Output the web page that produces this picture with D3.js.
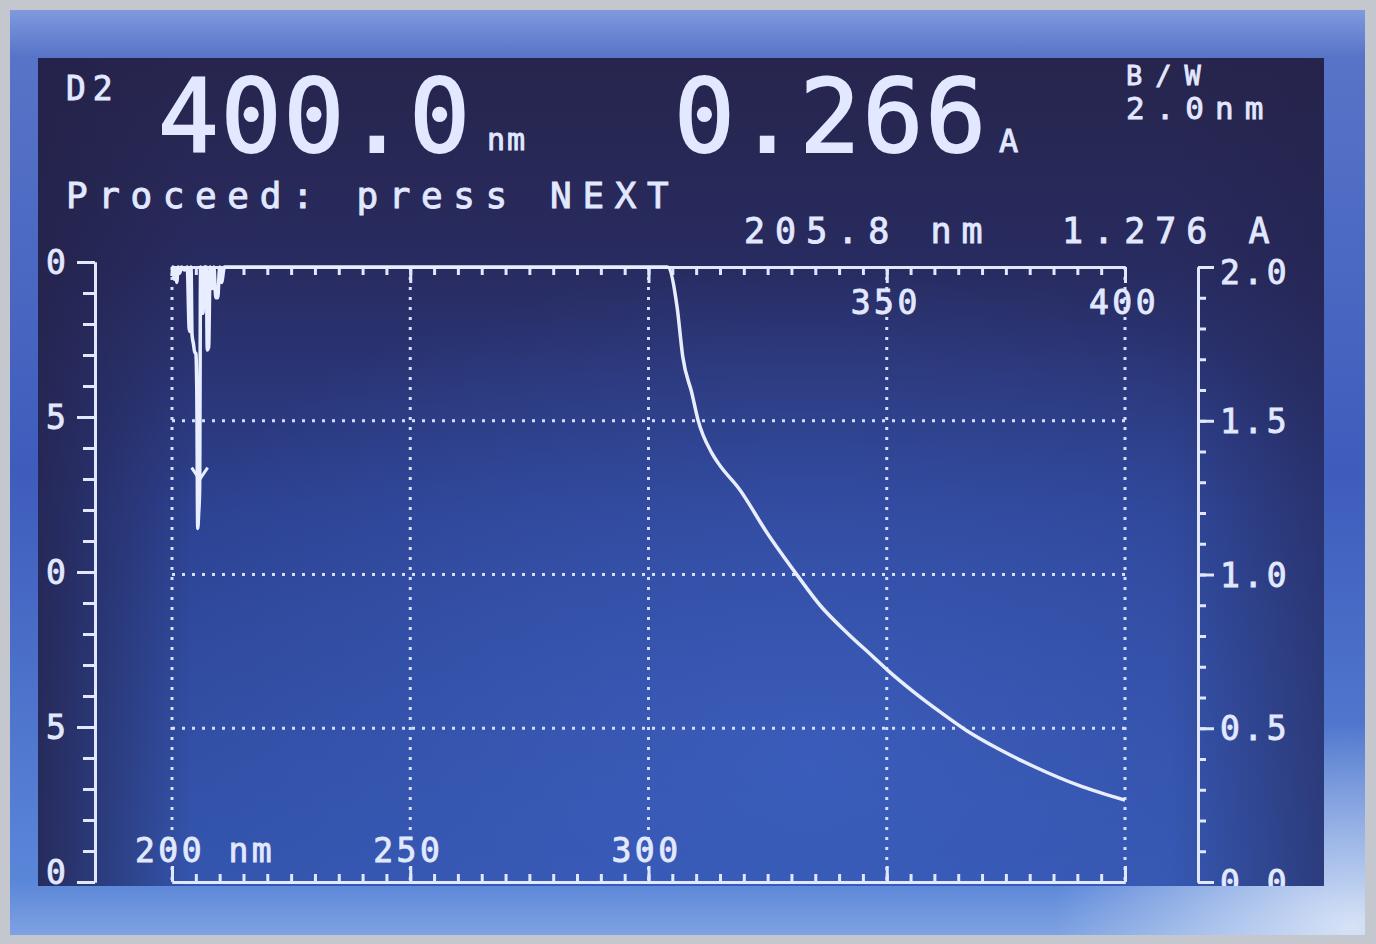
<!DOCTYPE html>
<html>
<head>
<meta charset="utf-8">
<script src="https://cdn.jsdelivr.net/npm/d3@7"></script>
<style>
  html, body { margin: 0; padding: 0; background: #c4c7cd; }
  svg { display: block; }
  .lcd { font-family: "DejaVu Sans Mono", "Liberation Mono", monospace; fill: #e2e8ff; stroke: #e2e8ff; stroke-width: 0.9; }
  .axis path, .axis line { stroke: #e0e7ff; stroke-width: 3; }
  .grid line { stroke: #d6deff; stroke-width: 3; stroke-dasharray: 3 7; }
</style>
</head>
<body>
<div id="chart"></div>
<script>
// Readout values shown on the instrument display
const lampLabel = "D2";
const currentNm = "400.0";
const currentAbs = "0.266";
const bandwidth = ["B/W", "2.0nm"];
const promptText = "Proceed: press NEXT";
const cursorNm = 205.8;
const cursorAbs = 1.276;

// Axis ticks and labels
const gridNm = [200, 250, 300, 350, 400];
const gridAbs = [0.5, 1.0, 1.5];
const majorAbs = [0, 0.5, 1.0, 1.5, 2.0];
const rightLabels = ["0.0", "0.5", "1.0", "1.5", "2.0"];
const leftLabels = ["0", "5", "0", "5", "0"];          // %T labels, truncated on screen
const topLabelNm = [350, 400];
const bottomLabelNm = [200, 250, 300];
const bottomLabels = ["200 nm", "250", "300"];

// Scanned spectrum (absorbance, clipped at 2.0 by the display)
const wavelengths = [
  200.0, 200.2, 200.5, 200.8, 201.0, 201.3, 201.6, 202.0, 202.6, 203.2,
  203.6, 203.8, 204.0, 204.2, 204.5, 204.8, 205.0, 205.2, 205.4, 205.6,
  205.8, 206.0, 206.2, 206.5, 206.8, 207.2, 207.4, 207.7, 208.0, 208.4,
  208.8, 209.2, 209.6, 210.0, 210.4, 211.0, 304.0, 306.0, 307.2, 309.1,
  310.4, 313.3, 314.6, 319.2, 324.9, 331.2, 336.0, 341.7, 347.1, 350.1,
  355.5, 361.2, 366.8, 373.8, 381.1, 390.3, 400.0
];
const absorbance = [
  1.97, 2.00, 1.96, 1.99, 1.95, 2.00, 1.98, 2.00, 1.99, 2.00,
  1.80, 1.79, 2.00, 1.78, 1.75, 1.72, 1.72, 1.60, 1.15, 1.20,
  1.276, 2.00, 1.86, 1.85, 2.00, 2.00, 1.73, 1.74, 2.00, 1.93,
  2.00, 1.90, 1.90, 2.00, 1.95, 2.00, 2.00, 1.87, 1.707, 1.59,
  1.502, 1.395, 1.363, 1.275, 1.135, 0.998, 0.900, 0.810, 0.733, 0.690,
  0.620, 0.553, 0.492, 0.430, 0.374, 0.314, 0.266
];

const W = 1376, H = 944;
const svg = d3.select('#chart').append('svg')
  .attr('width', W).attr('height', H);

const defs = svg.append('defs');

// bezel gradient
const bezel = defs.append('linearGradient').attr('id', 'bezel')
  .attr('x1', 0).attr('y1', 0).attr('x2', 0).attr('y2', 1);
bezel.append('stop').attr('offset', '0%').attr('stop-color', '#7f9ade');
bezel.append('stop').attr('offset', '5%').attr('stop-color', '#5874c8');
bezel.append('stop').attr('offset', '50%').attr('stop-color', '#3e5cbc');
bezel.append('stop').attr('offset', '94%').attr('stop-color', '#5a86d8');
bezel.append('stop').attr('offset', '100%').attr('stop-color', '#7ea2e2');

const glare = defs.append('radialGradient').attr('id', 'glare')
  .attr('cx', 0.99).attr('cy', 0.99).attr('r', 0.22);
glare.append('stop').attr('offset', '0%').attr('stop-color', '#e6eefa').attr('stop-opacity', 0.85);
glare.append('stop').attr('offset', '100%').attr('stop-color', '#e6eefa').attr('stop-opacity', 0);

// screen gradients
const scr = defs.append('linearGradient').attr('id', 'screen')
  .attr('x1', 0).attr('y1', 0).attr('x2', 0).attr('y2', 1);
scr.append('stop').attr('offset', '0%').attr('stop-color', '#27254d');
scr.append('stop').attr('offset', '25%').attr('stop-color', '#282b60');
scr.append('stop').attr('offset', '55%').attr('stop-color', '#2c4190');
scr.append('stop').attr('offset', '100%').attr('stop-color', '#3254ab');

const glow = defs.append('radialGradient').attr('id', 'glow')
  .attr('cx', 0.6).attr('cy', 0.85).attr('r', 0.6);
glow.append('stop').attr('offset', '0%').attr('stop-color', '#3f62c4').attr('stop-opacity', 0.7);
glow.append('stop').attr('offset', '100%').attr('stop-color', '#3f62c4').attr('stop-opacity', 0);

const edge = defs.append('linearGradient').attr('id', 'edge')
  .attr('x1', 0).attr('y1', 0).attr('x2', 1).attr('y2', 0);
edge.append('stop').attr('offset', '0%').attr('stop-color', '#24224a').attr('stop-opacity', 0.8);
edge.append('stop').attr('offset', '12%').attr('stop-color', '#24224a').attr('stop-opacity', 0);
edge.append('stop').attr('offset', '88%').attr('stop-color', '#24224a').attr('stop-opacity', 0);
edge.append('stop').attr('offset', '100%').attr('stop-color', '#24224a').attr('stop-opacity', 0.5);

defs.append('clipPath').attr('id', 'screen-clip')
  .append('rect').attr('x', 38).attr('y', 58).attr('width', 1286).attr('height', 828);

// photo frame
svg.append('rect').attr('x', 10).attr('y', 10).attr('width', 1355).attr('height', 925)
  .attr('fill', 'url(#bezel)');
svg.append('rect').attr('x', 10).attr('y', 10).attr('width', 1355).attr('height', 925)
  .attr('fill', 'url(#glare)');

svg.append('rect').attr('x', 38).attr('y', 58).attr('width', 1286).attr('height', 828)
  .attr('fill', 'url(#screen)');
svg.append('rect').attr('x', 38).attr('y', 58).attr('width', 1286).attr('height', 828)
  .attr('fill', 'url(#glow)');
svg.append('rect').attr('x', 38).attr('y', 58).attr('width', 1286).attr('height', 828)
  .attr('fill', 'url(#edge)');

const g = svg.append('g').attr('clip-path', 'url(#screen-clip)');

// scales
const x = d3.scaleLinear().domain([200, 400]).range([172, 1125]);
const y = d3.scaleLinear().domain([0, 2]).range([882, 267]);

const minorNm = d3.range(200, 401, 5);
const minorAbs = d3.range(0, 2.001, 0.1);

// dotted grid
const grid = g.append('g').attr('class', 'grid');
grid.selectAll('.vg').data(gridNm).join('line')
  .attr('x1', d => x(d)).attr('x2', d => x(d))
  .attr('y1', y(2)).attr('y2', y(0));
grid.selectAll('.hg').data(gridAbs).join('line')
  .attr('class', 'hg')
  .attr('x1', x(200)).attr('x2', x(400))
  .attr('y1', d => y(d)).attr('y2', d => y(d));

// top wavelength axis (ticks downward)
g.append('g').attr('class', 'axis').attr('transform', `translate(0,${y(2)})`)
  .call(d3.axisBottom(x).tickValues(minorNm).tickSize(8).tickSizeOuter(0).tickFormat(''));
g.append('g').attr('class', 'axis').attr('transform', `translate(0,${y(2)})`)
  .call(d3.axisBottom(x).tickValues(gridNm.slice(1)).tickSize(16).tickSizeOuter(0).tickFormat(''));

// bottom wavelength axis (ticks upward)
g.append('g').attr('class', 'axis').attr('transform', `translate(0,${y(0)})`)
  .call(d3.axisTop(x).tickValues(minorNm).tickSize(8).tickSizeOuter(0).tickFormat(''));
g.append('g').attr('class', 'axis').attr('transform', `translate(0,${y(0)})`)
  .call(d3.axisTop(x).tickValues(gridNm).tickSize(16).tickSizeOuter(0).tickFormat(''));

// left %T axis
const yl = d3.scaleLinear().domain([0, 2]).range([882, 262]);
g.append('g').attr('class', 'axis').attr('transform', 'translate(95,0)')
  .call(d3.axisLeft(yl).tickValues(minorAbs).tickSize(12).tickSizeOuter(0).tickFormat(''));
g.append('g').attr('class', 'axis').attr('transform', 'translate(95,0)')
  .call(d3.axisLeft(yl).tickValues(majorAbs).tickSize(18).tickSizeOuter(0).tickFormat(''));

// right absorbance axis
g.append('g').attr('class', 'axis').attr('transform', 'translate(1198,0)')
  .call(d3.axisRight(y).tickValues(minorAbs).tickSize(8).tickSizeOuter(0).tickFormat(''));
g.append('g').attr('class', 'axis').attr('transform', 'translate(1198,0)')
  .call(d3.axisRight(y).tickValues(majorAbs).tickSize(16).tickSizeOuter(0).tickFormat(''));
g.selectAll('.axis text').remove();

// axis labels
const tickFont = { size: 33, ls: 3.5 };
g.selectAll('.lbl-left').data(leftLabels).join('text')
  .attr('class', 'lcd')
  .attr('x', 56)
  .attr('y', (d, i) => i === 0 ? yl(majorAbs[i]) + 2 : yl(majorAbs[i]) + 12)
  .attr('text-anchor', 'middle')
  .style('font-size', tickFont.size + 'px')
  .text(d => d);

g.selectAll('.lbl-right').data(rightLabels).join('text')
  .attr('class', 'lcd')
  .attr('x', 1220)
  .attr('y', (d, i) => i === 4 ? y(majorAbs[i]) + 17 : y(majorAbs[i]) + 12)
  .style('font-size', tickFont.size + 'px')
  .style('letter-spacing', tickFont.ls + 'px')
  .text(d => d);

g.selectAll('.lbl-top').data(topLabelNm).join('text')
  .attr('class', 'lcd')
  .attr('x', d => x(d) - 36)
  .attr('y', 314)
  .style('font-size', tickFont.size + 'px')
  .style('letter-spacing', tickFont.ls + 'px')
  .text(d => String(d));

g.selectAll('.lbl-bottom').data(bottomLabelNm).join('text')
  .attr('class', 'lcd')
  .attr('x', d => x(d) - 37)
  .attr('y', 862)
  .style('font-size', tickFont.size + 'px')
  .style('letter-spacing', tickFont.ls + 'px')
  .text((d, i) => bottomLabels[i]);

// spectrum trace
const pts = wavelengths.map((w, i) => ({ w, a: Math.min(absorbance[i], 2) }));
const line = d3.line().x(d => x(d.w)).y(d => y(d.a)).curve(d3.curveMonotoneX);
g.append('path').datum(pts)
  .attr('fill', 'none')
  .attr('stroke', '#e8eeff')
  .attr('stroke-width', 3.5)
  .attr('stroke-linejoin', 'round')
  .attr('d', line);

// cursor marker
const cx = x(cursorNm), cy = y(cursorAbs);
g.append('path')
  .attr('d', `M${cx - 8},${cy - 22} L${cx},${cy - 10} L${cx + 8},${cy - 22}`)
  .attr('fill', 'none').attr('stroke', '#e8eeff').attr('stroke-width', 3);

// header readouts
function lcdText(str, px, py, size, ls, sw) {
  return g.append('text').attr('class', 'lcd')
    .attr('x', px).attr('y', py)
    .style('font-size', size + 'px')
    .style('letter-spacing', ls + 'px')
    .style('stroke-width', sw || 0.9)
    .text(str);
}
lcdText(lampLabel, 66, 100, 33, 7);
lcdText(currentNm, 158, 152, 101, 2, 2);
lcdText('nm', 487, 150, 30, 2);
lcdText(currentAbs, 674, 152, 101, 2, 2);
lcdText('A', 999, 152, 32, 0);
lcdText(bandwidth[0], 1126, 85, 27, 13);
lcdText(bandwidth[1], 1126, 119, 31, 11);
lcdText(promptText, 66, 208, 36, 10.6);
lcdText(cursorNm.toFixed(1) + ' nm', 744, 243, 35, 10);
lcdText(cursorAbs.toFixed(3) + ' A', 1062, 243, 35, 10);
</script>
</body>
</html>
